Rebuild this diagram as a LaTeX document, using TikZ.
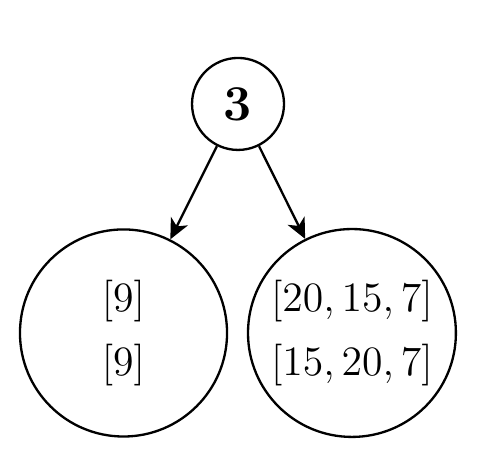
\documentclass[tikz,border=0pt]{standalone}
\usetikzlibrary{arrows.meta}

\begin{document}
\begin{tikzpicture}[scale=1,
    treenode/.style={draw, circle, line width=0.8pt, inner sep=0pt, align=center, font=\fontsize{15}{18}\selectfont},
    edge/.style={line width=0.8pt, -{Stealth[length=7pt,width=6.5pt,inset=2pt]}}]
    % Fix the margins of the picture
    \useasboundingbox (0,0) rectangle (5.818,-5.502);

    % Define the centres of the nodes
    \coordinate (R) at (2.885,-1.260);
    \coordinate (L) at (1.497,-4.036);
    \coordinate (Q) at (4.266,-4.036);

    % Draw the nodes of the tree
    \node [treenode, minimum size=1.115cm, font=\fontsize{19}{22}\selectfont] (root) at (R) {$\mathbf{3}$};
    \node [treenode, minimum size=2.51cm] (left) at (L) {$[9]$\\[4pt]$[9]$};
    \node [treenode, minimum size=2.52cm] (right) at (Q) {$[20,15,7]$\\[4pt]$[15,20,7]$};

    % Draw the edges between the nodes
    \draw [edge] (root) -- (left);
    \draw [edge] (root) -- (right);

\end{tikzpicture}
\end{document}
